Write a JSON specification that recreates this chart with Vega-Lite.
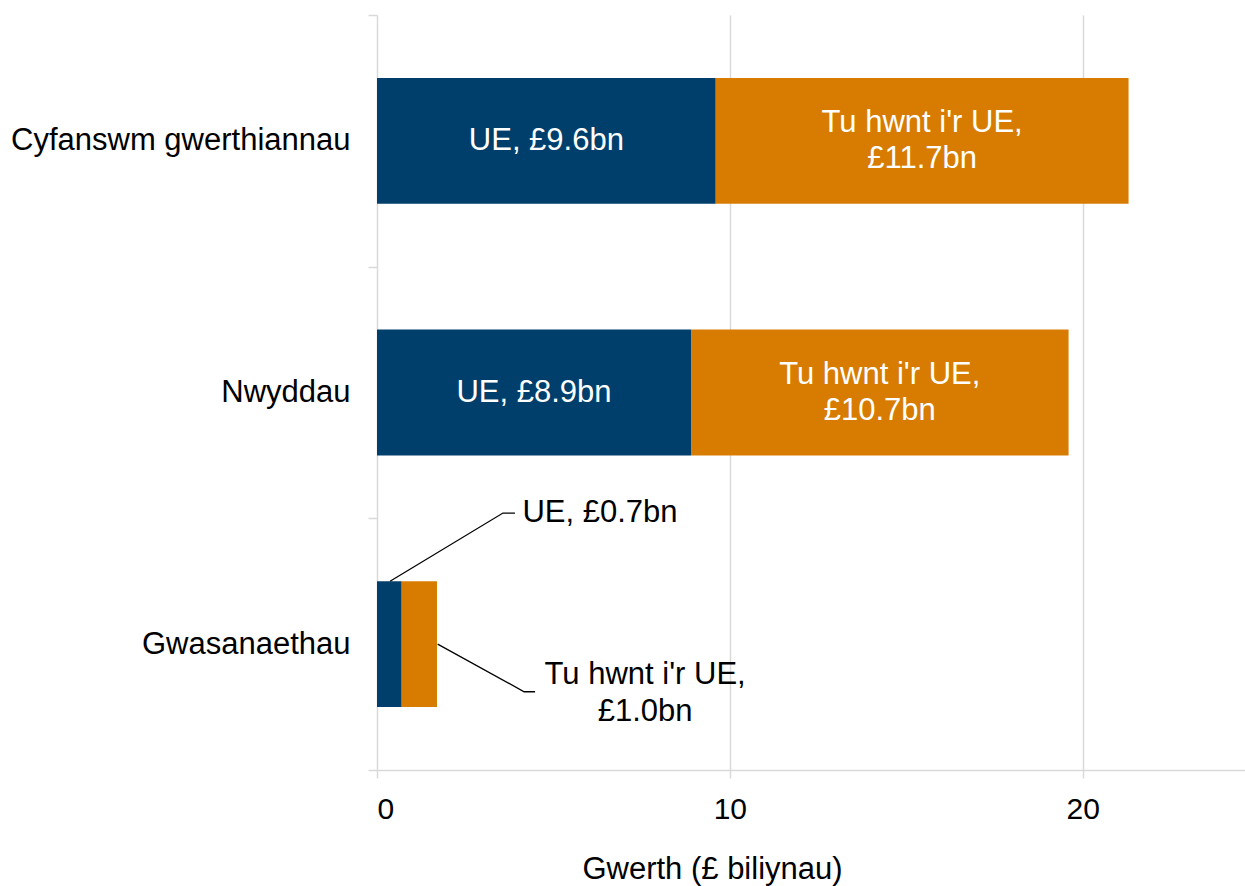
{
  "$schema": "https://vega.github.io/schema/vega-lite/v6.json",
  "width": 868,
  "height": 755,
  "padding": {"left": 377, "top": 15, "right": 0, "bottom": 116},
  "autosize": {"type": "none"},
  "background": "white",
  "config": {"font": "Liberation Sans", "view": {"stroke": null}},
  "datasets": {
    "bars": [
      {"category": "Cyfanswm gwerthiannau", "region": "UE", "value": 9.6, "label": "UE, £9.6bn"},
      {"category": "Cyfanswm gwerthiannau", "region": "Tu hwnt i'r UE", "value": 11.7, "label": "Tu hwnt i'r UE,\n£11.7bn"},
      {"category": "Nwyddau", "region": "UE", "value": 8.9, "label": "UE, £8.9bn"},
      {"category": "Nwyddau", "region": "Tu hwnt i'r UE", "value": 10.7, "label": "Tu hwnt i'r UE,\n£10.7bn"},
      {"category": "Gwasanaethau", "region": "UE", "value": 0.7, "label": "UE, £0.7bn"},
      {"category": "Gwasanaethau", "region": "Tu hwnt i'r UE", "value": 1.0, "label": "Tu hwnt i'r UE,\n£1.0bn"}
    ],
    "leaders": [
      {"leader": "UE", "step": 1, "px": 0.37, "py": 2.25},
      {"leader": "UE", "step": 2, "px": 3.57, "py": 1.979},
      {"leader": "UE", "step": 3, "px": 3.91, "py": 1.979},
      {"leader": "Tu", "step": 1, "px": 1.72, "py": 2.5},
      {"leader": "Tu", "step": 2, "px": 4.17, "py": 2.689},
      {"leader": "Tu", "step": 3, "px": 4.48, "py": 2.689}
    ],
    "callouts": [
      {"label": "UE, £0.7bn", "px": 6.32, "py": 1.979},
      {"label": "Tu hwnt i'r UE,\n£1.0bn", "px": 7.6, "py": 2.622}
    ]
  },
  "layer": [
    {
      "data": {"name": "bars"},
      "transform": [
        {"stack": "value", "groupby": ["category"], "sort": [{"field": "region", "order": "descending"}], "as": ["v0", "v1"]},
        {"calculate": "(datum.v0 + datum.v1) / 2", "as": "mid"}
      ],
      "encoding": {
        "y": {
          "field": "category", "type": "nominal",
          "sort": ["Cyfanswm gwerthiannau", "Nwyddau", "Gwasanaethau"],
          "scale": {"paddingInner": 0, "paddingOuter": 0},
          "axis": {"title": null, "domain": false, "ticks": true, "tickBand": "extent", "tickColor": "#d9d9d9", "tickSize": 9, "tickWidth": 1.5, "labelFontSize": 31, "labelColor": "black", "labelPadding": 18, "labelLimit": 1000, "grid": false}
        }
      },
      "layer": [
        {
          "mark": {"type": "bar", "height": {"band": 0.5}},
          "encoding": {
            "x": {
              "field": "v0", "type": "quantitative", "title": "Gwerth (£ biliynau)",
              "scale": {"domain": [0, 24.6], "nice": false},
              "axis": {"values": [0, 10, 20], "grid": true, "gridColor": "#d9d9d9", "gridWidth": 1.5, "domainColor": "#d9d9d9", "domainWidth": 1.5, "tickColor": "#d9d9d9", "tickWidth": 1.5, "tickSize": 8, "labelFontSize": 30, "labelColor": "black", "labelPadding": 16, "titleFontSize": 31, "titleFontWeight": "normal", "titleColor": "black", "titlePadding": 30, "titleX": 335}
            },
            "x2": {"field": "v1"},
            "color": {
              "field": "region", "type": "nominal",
              "scale": {"domain": ["UE", "Tu hwnt i'r UE"], "range": ["#003F6C", "#D77C00"]},
              "legend": null
            }
          }
        },
        {
          "transform": [{"filter": "datum.category !== 'Gwasanaethau' && datum.region === 'UE'"}],
          "mark": {"type": "text", "color": "white", "fontSize": 31, "align": "center", "baseline": "middle"},
          "encoding": {
            "x": {"field": "mid", "type": "quantitative", "title": "Gwerth (£ biliynau)"},
            "text": {"field": "label"}
          }
        },
        {
          "transform": [{"filter": "datum.category !== 'Gwasanaethau' && datum.region !== 'UE'"}],
          "mark": {"type": "text", "color": "white", "fontSize": 31, "lineBreak": "\n", "lineHeight": 36, "align": "center", "baseline": "middle", "dy": -18},
          "encoding": {
            "x": {"field": "mid", "type": "quantitative", "title": "Gwerth (£ biliynau)"},
            "text": {"field": "label"}
          }
        }
      ]
    },
    {
      "data": {"name": "leaders"},
      "mark": {"type": "line", "color": "black", "strokeWidth": 1.3},
      "encoding": {
        "x": {"field": "px", "type": "quantitative", "title": "Gwerth (£ biliynau)"},
        "y": {"field": "py", "type": "quantitative", "scale": {"domain": [0, 3], "reverse": true, "nice": false, "zero": false}, "axis": null},
        "detail": {"field": "leader"},
        "order": {"field": "step"}
      }
    },
    {
      "data": {"name": "callouts"},
      "mark": {"type": "text", "color": "black", "fontSize": 31, "lineBreak": "\n", "lineHeight": 37, "align": "center", "baseline": "middle"},
      "encoding": {
        "x": {"field": "px", "type": "quantitative", "title": "Gwerth (£ biliynau)"},
        "y": {"field": "py", "type": "quantitative", "scale": {"domain": [0, 3], "reverse": true, "nice": false, "zero": false}, "axis": null},
        "text": {"field": "label"}
      }
    }
  ],
  "resolve": {"scale": {"y": "independent"}}
}
